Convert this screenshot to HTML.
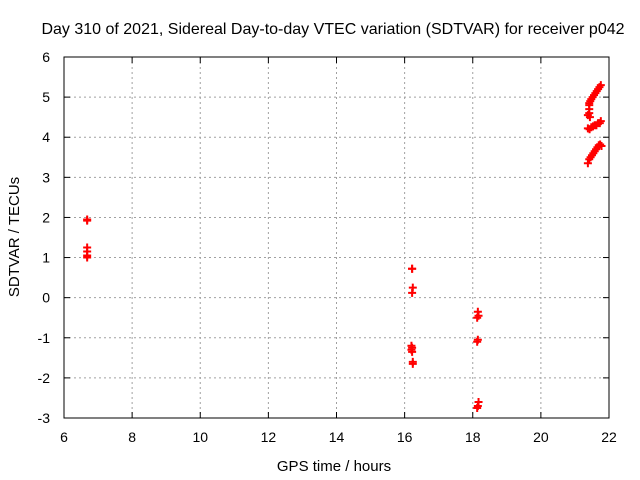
<!DOCTYPE html>
<html><head><meta charset="utf-8"><style>
html,body{margin:0;padding:0;background:#fff;}
svg{display:block;font-family:"Liberation Sans",Arial,sans-serif;}
</style></head><body>
<svg id="chart" width="640" height="480">
<text x="333" y="34" text-anchor="middle" font-size="16">Day 310 of 2021, Sidereal Day-to-day VTEC variation (SDTVAR) for receiver p042</text>
<g id="grid"></g>
<g id="ticks"></g>
<g id="points"></g>
<rect x="64" y="57" width="545" height="361" fill="none" stroke="#000" stroke-width="1"/>
<text x="334" y="471" text-anchor="middle" font-size="15">GPS time / hours</text>
<text transform="translate(19,237) rotate(-90)" text-anchor="middle" font-size="15">SDTVAR / TECUs</text>
</svg>
<script>
const xTicks = [6,8,10,12,14,16,18,20,22];
const yTicks = [-3,-2,-1,0,1,2,3,4,5,6];
const times = [6.68,6.68,6.68,6.68,6.68,6.68,
 16.22,16.22,16.24,16.22,16.2,16.22,16.2,16.22,16.24,16.24,
 18.15,18.17,18.13,18.15,18.13,18.17,18.15,18.13,
 21.38,21.42,21.45,21.48,21.52,21.56,21.6,21.64,21.68,21.72,21.76,
 21.42,21.42,21.42,21.44,
 21.38,21.43,21.48,21.53,21.58,21.63,21.68,21.73,21.76,
 21.38,21.42,21.46,21.5,21.54,21.58,21.62,21.66,21.7,21.74,21.78];
const values = [1.95,1.92,1.25,1.15,1.05,1.0,
 0.72,0.72,0.25,0.12,-1.2,-1.25,-1.3,-1.35,-1.6,-1.65,
 -0.35,-0.45,-0.5,-1.05,-1.1,-2.6,-2.7,-2.75,
 4.55,4.8,4.9,4.95,5.0,5.05,5.1,5.15,5.2,5.25,5.3,
 4.6,4.7,4.85,4.5,
 4.22,4.2,4.25,4.27,4.3,4.3,4.35,4.35,4.4,
 3.35,3.45,3.5,3.55,3.6,3.65,3.7,3.75,3.8,3.82,3.78];
const X0=64,X1=609,Y0=418,Y1=57;
function sx(v){return X0+(v-6)/(22-6)*(X1-X0);}
function sy(v){return Y0-(v+3)/9*(Y0-Y1);}
const NS="http://www.w3.org/2000/svg";
function mk(tag,attrs,parent){const e=document.createElementNS(NS,tag);for(const k in attrs)e.setAttribute(k,attrs[k]);parent.appendChild(e);return e;}
const grid=document.getElementById('grid'),ticks=document.getElementById('ticks'),pts=document.getElementById('points');
xTicks.forEach(t=>{
  const x=sx(t);
  if(t>6&&t<22){const g=mk('line',{x1:x,x2:x,y1:Y1,y2:Y0,stroke:'#a0a0a0','stroke-dasharray':'2,3'},grid);
  
  }
  mk('line',{x1:x,x2:x,y1:Y0,y2:Y0-6,stroke:'#000'},ticks);
  mk('line',{x1:x,x2:x,y1:Y1,y2:Y1+6,stroke:'#000'},ticks);
  const l=mk('text',{x:x,y:Y0+24,'text-anchor':'middle','font-size':'14'},ticks);
  l.textContent=t;
  
  
});
yTicks.forEach(t=>{
  const y=sy(t);
  if(t>-3&&t<6){const g=mk('line',{x1:X0,x2:X1,y1:y,y2:y,stroke:'#a0a0a0','stroke-dasharray':'2,3'},grid);
  
  }
  mk('line',{x1:X0,x2:X0+6,y1:y,y2:y,stroke:'#000'},ticks);
  mk('line',{x1:X1,x2:X1-6,y1:y,y2:y,stroke:'#000'},ticks);
  const l=mk('text',{x:X0-14,y:y+5,'text-anchor':'end','font-size':'14'},ticks);
  l.textContent=t;
  
  
});
times.forEach((t,i)=>{
  const x=sx(t),y=sy(values[i]);
  const p=mk('path',{d:`M${x-4},${y}H${x+4}M${x},${y-4}V${y+4}`,stroke:'#ff0000','stroke-width':'2',fill:'none'},pts);
  
  
});
</script>
</body></html>
